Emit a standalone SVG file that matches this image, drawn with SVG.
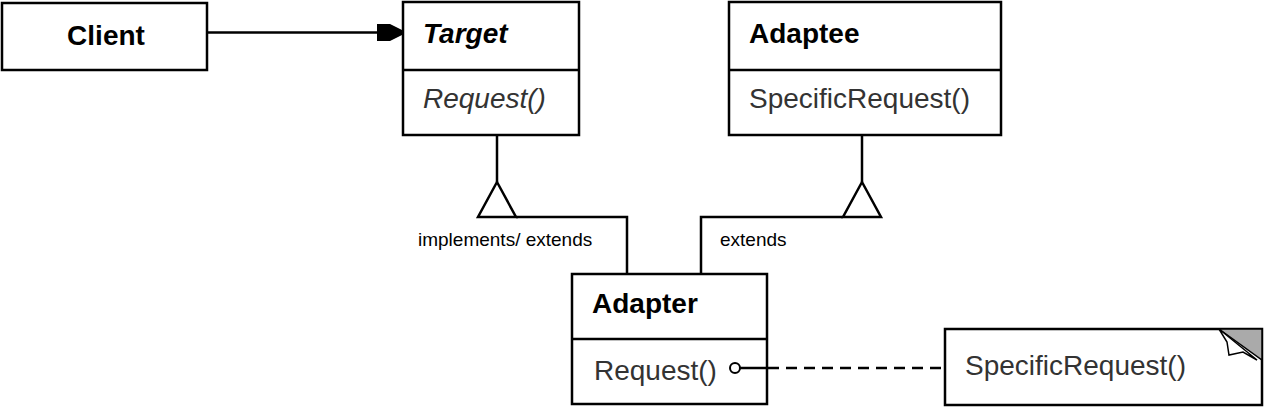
<svg xmlns="http://www.w3.org/2000/svg" width="1264" height="408" viewBox="0 0 1264 408">
<style>
.box{fill:#fff;stroke:#000;stroke-width:2.5}
.ln{fill:none;stroke:#000;stroke-width:2.5}
.name{font-family:"Liberation Sans",Arial,sans-serif;font-size:28px;font-weight:bold;fill:#000}
.op{font-family:"Liberation Sans",Arial,sans-serif;font-size:28px;fill:#333}
.lbl{font-family:"Liberation Sans",Arial,sans-serif;font-size:19px;fill:#000}
</style>
<rect width="1264" height="408" fill="#fff"/>
<g id="client">
<rect class="box" x="2" y="3" width="205" height="67"/>
<text class="name" x="106" y="45" text-anchor="middle">Client</text>
</g>
<g id="target">
<rect class="box" x="403" y="2" width="176" height="133"/>
<line class="ln" x1="403" y1="70" x2="579" y2="70"/>
<text class="name" x="423" y="43" font-style="italic">Target</text>
<text class="op" x="423" y="108" font-style="italic">Request()</text>
</g>
<g id="adaptee">
<rect class="box" x="729" y="2" width="272" height="133"/>
<line class="ln" x1="729" y1="70" x2="1001" y2="70"/>
<text class="name" x="749" y="43">Adaptee</text>
<text class="op" x="749" y="108">SpecificRequest()</text>
</g>
<g id="adapter">
<rect class="box" x="572" y="274" width="195" height="130"/>
<line class="ln" x1="572" y1="339" x2="767" y2="339"/>
<text class="name" x="592" y="313">Adapter</text>
<text class="op" x="594" y="380">Request()</text>
</g>
<g id="note">
<rect class="box" x="945" y="329" width="317" height="76"/>
<polygon points="1219,329 1262,329 1262,360" fill="#aaa" stroke="#000" stroke-width="1.5"/>
<polygon points="1219,329 1227,342 1229,355 1243,352 1257,360" fill="#fff" stroke="#000" stroke-width="1.5"/>
<text class="op" x="965" y="375">SpecificRequest()</text>
</g>
<g id="connectors">
<line class="ln" x1="208" y1="32.5" x2="380" y2="32.5"/>
<polygon points="377,24 390,24 402,30 402,35 390,41 377,41" fill="#000"/>
<polyline class="ln" points="497,136 497,182"/>
<polygon class="ln" points="497,182 478,217 516,217" style="fill:#fff"/>
<polyline class="ln" points="516,217 627,217 627,273"/>
<polyline class="ln" points="862,136 862,182"/>
<polygon class="ln" points="862,182 843,217 881,217" style="fill:#fff"/>
<polyline class="ln" points="843,217 701,217 701,273"/>
<line class="ln" x1="740" y1="368" x2="766" y2="368"/>
<line class="ln" x1="768" y1="368" x2="944" y2="368" stroke-dasharray="11,7"/>
<circle cx="735" cy="368" r="5" fill="#fff" stroke="#000" stroke-width="2"/>
<text class="lbl" x="418" y="246">implements/ extends</text>
<text class="lbl" x="720" y="246">extends</text>
</g>
</svg>
